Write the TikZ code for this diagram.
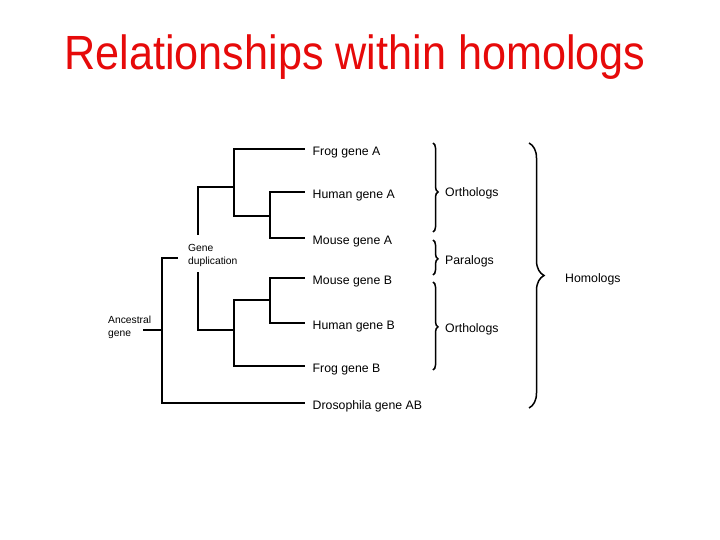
\documentclass[tikz,border=0pt]{standalone}
\usepackage{fontspec}
\setmainfont{Liberation Sans}
\usetikzlibrary{decorations.pathreplacing}
\definecolor{titlered}{RGB}{230,10,10}
\tikzset{
  tree/.style={line width=1.8pt, line cap=rect},
  leaf/.style={anchor=west, inner xsep=8.5pt, inner ysep=0pt, text height=13pt, text depth=0pt, font=\fontsize{12.3}{14}\selectfont},
  small/.style={anchor=west, inner sep=0pt, align=left, font=\fontsize{10.3}{13}\selectfont},
  bracelbl/.style={anchor=west, inner sep=0pt, text height=13pt, text depth=0pt, font=\fontsize{12.3}{14}\selectfont},
  bracestyle/.style={line width=1.5pt, decorate, decoration={brace, amplitude=#1}},
}
\begin{document}
\begin{tikzpicture}[x=1pt,y=-1pt]
\useasboundingbox (0,0) rectangle (720,540);
% title
\node[anchor=base, text=titlered, inner sep=0pt, font=\fontsize{48}{52}\selectfont] (title) at (355,70) {\scalebox{0.9}[1]{Relationships within homologs}};
% leaves
\node[leaf] (fa) at (304,149) {Frog gene A};
\node[leaf] (ha) at (304,192) {Human gene A};
\node[leaf] (ma) at (304,238) {Mouse gene A};
\node[leaf] (mb) at (304,278) {Mouse gene B};
\node[leaf] (hb) at (304,323) {Human gene B};
\node[leaf] (fb) at (304,366) {Frog gene B};
\node[leaf] (dro) at (304,403) {Drosophila gene AB};
% internal labels
\node[small] (dup) at (188,255) {Gene\\duplication};
\node[small] (anc) at (108,327) {Ancestral\\gene};
% junctions
\coordinate (nA) at (270,216);
\coordinate (nA2) at (234,187);
\coordinate (nB) at (270,300);
\coordinate (nB2) at (234,330);
\coordinate (dA) at (198,187);
\coordinate (dAend) at (198,234);
\coordinate (dB) at (198,330);
\coordinate (dBend) at (198,273);
\coordinate (root) at (162,330);
\coordinate (dupstub) at (177,258);
\coordinate (ancstub) at (144,330);
% tree
\draw[tree] (ha.west) -| (nA) |- (ma.west);
\draw[tree] (fa.west) -| (nA2) |- (nA);
\draw[tree] (nA2) -- (dA) -- (dAend);
\draw[tree] (mb.west) -| (nB) |- (hb.west);
\draw[tree] (fb.west) -| (nB2) |- (nB);
\draw[tree] (nB2) -- (dB) -- (dBend);
\draw[tree] (dro.west) -| (root) |- (dupstub);
\draw[tree] (ancstub) -- (root);
% braces
\coordinate (b1t) at (433,143); \coordinate (b1b) at (433,232);
\coordinate (b2t) at (433,240); \coordinate (b2b) at (433,275);
\coordinate (b3t) at (433,282); \coordinate (b3b) at (433,370);
\coordinate (b4t) at (529,143); \coordinate (b4b) at (529,408);
\draw[bracestyle=5pt, decoration={aspect=0.55}] (b1t) -- (b1b);
\draw[bracestyle=5pt, decoration={aspect=0.54}] (b2t) -- (b2b);
\draw[bracestyle=5pt, decoration={aspect=0.51}] (b3t) -- (b3b);
\draw[bracestyle=15pt, decoration={aspect=0.5}] (b4t) -- (b4b);
\node[bracelbl] (orth1) at (445,190) {Orthologs};
\node[bracelbl] (para) at (445,258) {Paralogs};
\node[bracelbl] (orth2) at (445,326) {Orthologs};
\node[bracelbl] (homo) at (565,276) {Homologs};
\end{tikzpicture}
\end{document}
